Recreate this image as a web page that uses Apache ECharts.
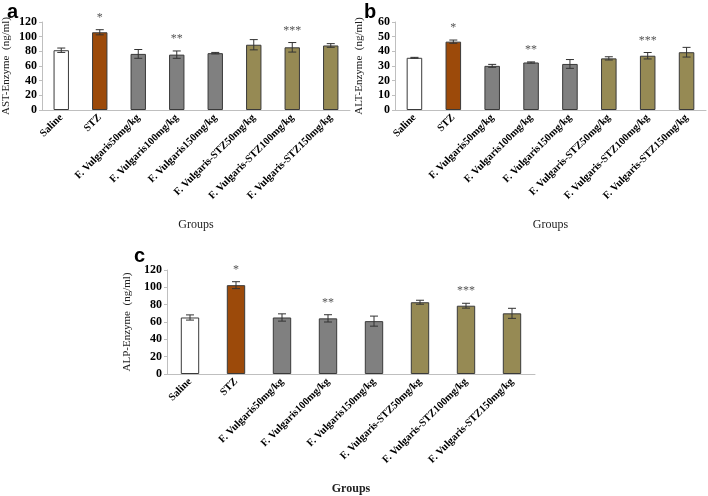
<!DOCTYPE html>
<html>
<head>
<meta charset="utf-8">
<script src="https://cdn.jsdelivr.net/npm/echarts@6/dist/echarts.min.js"></script>
<style>
html,body{margin:0;padding:0;background:#fff;}
#main{width:708px;height:496px;}
</style>
</head>
<body>
<div id="main"></div>
<script>
// groups on the x axis
var groups = ['Saline', 'STZ', 'F. Vulgaris50mg/kg', 'F. Vulgaris100mg/kg', 'F. Vulgaris150mg/kg',
	'F. Vulgaris-STZ50mg/kg', 'F. Vulgaris-STZ100mg/kg', 'F. Vulgaris-STZ150mg/kg'];
// AST (panel a)
var astMean = [81.5, 106, 76.5, 75.5, 77.5, 89, 85.5, 88];
var astErr = [3, 3.5, 6, 5, 1, 7, 6.5, 2.5];
// ALT (panel b)
var altMean = [35.6, 46.6, 30.1, 32.4, 31.4, 35.2, 37, 39.4];
var altErr = [0.3, 1.1, 1, 0.4, 3, 1.1, 2.2, 3.3];
// ALP (panel c)
var alpMean = [65.2, 102.5, 65.2, 64.2, 61, 82.8, 78.8, 70];
var alpErr = [3, 4, 4.2, 4.2, 5.8, 2.3, 2.8, 5.8];
// significance marks
var sigMarks = ['', '*', '', '**', '', '', '***', ''];

var barColors = ['#ffffff', '#9c4a0a', '#808080', '#808080', '#808080', '#968a54', '#968a54', '#968a54'];
var serif = '"Liberation Serif", "Times New Roman", serif';

function barData(vals) {
	return vals.map(function (v, i) {
		return {value: v, itemStyle: {color: barColors[i]}};
	});
}

function errData(mean, err) {
	return mean.map(function (v, i) {
		return [i, v, err[i]];
	});
}

function renderErr(params, api) {
	var x = api.value(0), m = api.value(1), e = api.value(2);
	var top = api.coord([x, m + e]);
	var bot = api.coord([x, m - e]);
	var w = 4;
	var style = {stroke: '#333', lineWidth: 1};
	var children = [
		{type: 'line', shape: {x1: top[0], y1: top[1], x2: bot[0], y2: bot[1]}, style: style},
		{type: 'line', shape: {x1: top[0] - w, y1: top[1], x2: top[0] + w, y2: top[1]}, style: style},
		{type: 'line', shape: {x1: bot[0] - w, y1: bot[1], x2: bot[0] + w, y2: bot[1]}, style: style}
	];
	var s = sigMarks[params.dataIndex];
	if (s) {
		children.push({
			type: 'text',
			style: {text: s, x: top[0], y: top[1] - 6, textAlign: 'center', textVerticalAlign: 'bottom',
				fill: '#555', font: '12px ' + serif}
		});
	}
	return {type: 'group', children: children};
}

function yAxisCfg(idx, name, max, step) {
	return {
		type: 'value', gridIndex: idx, min: 0, max: max, interval: step,
		name: name, nameLocation: 'middle', nameGap: 30,
		nameTextStyle: {fontFamily: serif, fontSize: 11, color: '#222'},
		axisLine: {show: true, lineStyle: {color: '#bfbfbf'}},
		axisTick: {show: true, length: 3, lineStyle: {color: '#bfbfbf'}},
		splitLine: {show: false},
		axisLabel: {fontFamily: serif, fontWeight: 'bold', fontSize: 12, color: '#000', margin: 5}
	};
}

function xAxisCfg(idx, bold) {
	return {
		type: 'category', gridIndex: idx, data: groups,
		name: 'Groups', nameLocation: 'middle', nameGap: 109,
		nameTextStyle: {fontFamily: serif, fontSize: 12, color: '#222', fontWeight: bold ? 'bold' : 'normal'},
		axisLine: {lineStyle: {color: '#bfbfbf'}},
		axisTick: {show: false},
		axisLabel: {interval: 0, rotate: 45, fontFamily: serif, fontWeight: 'bold', fontSize: 10.5, color: '#000', margin: 6}
	};
}

var chart = echarts.init(document.getElementById('main'));
var option = {
	animation: false,
	backgroundColor: '#fff',
	title: [
		{text: 'a', left: 2, top: -3, textStyle: {fontFamily: '"Liberation Sans", Arial', fontSize: 20, fontWeight: 'bold', color: '#000'}},
		{text: 'b', left: 359, top: -3, textStyle: {fontFamily: '"Liberation Sans", Arial', fontSize: 20, fontWeight: 'bold', color: '#000'}},
		{text: 'c', left: 129, top: 241, textStyle: {fontFamily: '"Liberation Sans", Arial', fontSize: 20, fontWeight: 'bold', color: '#000'}}
	],
	grid: [
		{left: 40, top: 22, width: 310, height: 88},
		{left: 395, top: 22, width: 311, height: 88},
		{left: 167, top: 270, width: 368, height: 110}
	],
	xAxis: [xAxisCfg(0, false), xAxisCfg(1, false), xAxisCfg(2, true)],
	yAxis: [
		yAxisCfg(0, 'AST-Enzyme  (ng/ml)', 120, 20),
		yAxisCfg(1, 'ALT-Enzyme  (ng/ml)', 60, 10),
		yAxisCfg(2, 'ALP-Enzyme  (ng/ml)', 120, 20)
	],
	series: [
		{type: 'bar', xAxisIndex: 0, yAxisIndex: 0, barWidth: '40%', data: barData(astMean),
			itemStyle: {borderColor: '#3a3a3a', borderWidth: 1}},
		{type: 'custom', xAxisIndex: 0, yAxisIndex: 0, renderItem: renderErr, data: errData(astMean, astErr), z: 3},
		{type: 'bar', xAxisIndex: 1, yAxisIndex: 1, barWidth: '40%', data: barData(altMean),
			itemStyle: {borderColor: '#3a3a3a', borderWidth: 1}},
		{type: 'custom', xAxisIndex: 1, yAxisIndex: 1, renderItem: renderErr, data: errData(altMean, altErr), z: 3},
		{type: 'bar', xAxisIndex: 2, yAxisIndex: 2, barWidth: '40%', data: barData(alpMean),
			itemStyle: {borderColor: '#3a3a3a', borderWidth: 1}},
		{type: 'custom', xAxisIndex: 2, yAxisIndex: 2, renderItem: renderErr, data: errData(alpMean, alpErr), z: 3}
	]
};
chart.setOption(option);
</script>
</body>
</html>
